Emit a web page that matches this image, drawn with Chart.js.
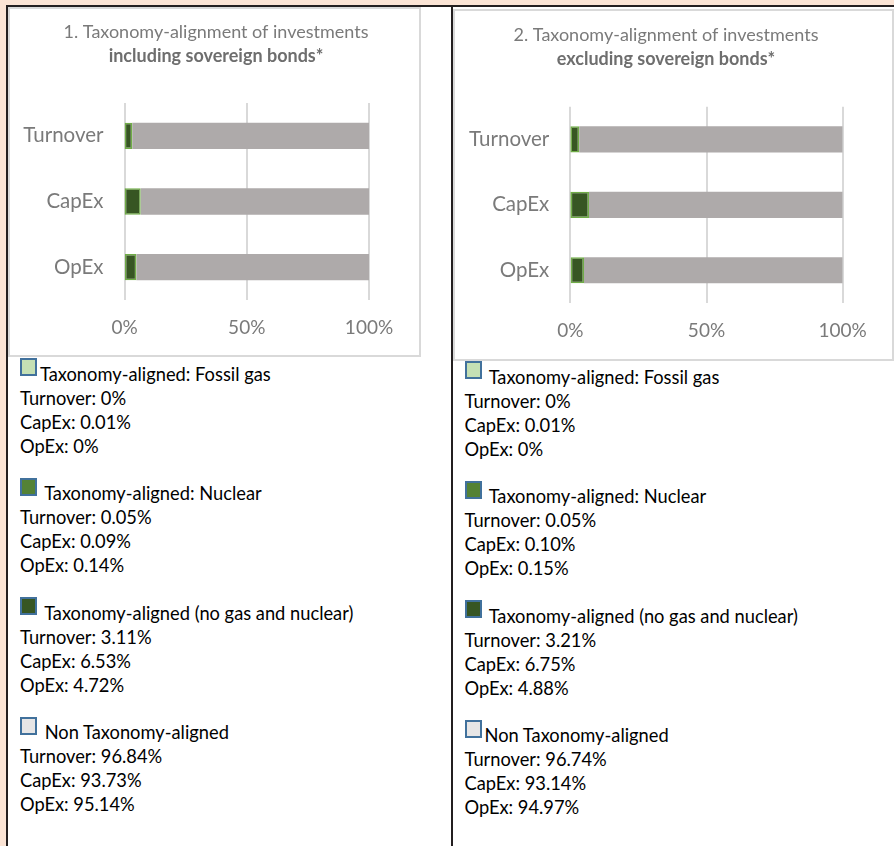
<!DOCTYPE html>
<html>
<head>
<meta charset="utf-8">
<script src="https://cdn.jsdelivr.net/npm/chart.js"></script>
<style>
  body { margin: 0; width: 894px; height: 846px; overflow: hidden; background: #fbe4d5; font-family: Lato, sans-serif; position: relative; }
  .sheet { position: absolute; left: 6px; top: 5px; width: 900px; height: 860px; background: #fff; border-top: 2px solid #231f20; border-left: 2px solid #231f20; }
  .divider { position: absolute; left: 451px; top: 5px; width: 2px; height: 860px; background: #231f20; }
  .box { position: absolute; border: 2px solid #d9d9d9; background: #fff; }
  .box canvas { display: block; }
  .legend { position: absolute; font-size: 18.3px; line-height: 23.9px; color: #000; white-space: pre; }
  .legend div { height: 23.9px; }
  .legend .head { position: relative; padding-left: 20px; }
  .swatch { position: absolute; left: 0; top: -4.8px; width: 13px; height: 14px; border: 2px solid #41719c; }
</style>
</head>
<body>
<div class="sheet"></div>
<div class="divider"></div>

<div class="box" style="left: 8px; top: 7px;"><canvas id="chartIncl" width="409" height="346"></canvas></div>
<div class="box" style="left: 453px; top: 9px;"><canvas id="chartExcl" width="437" height="348"></canvas></div>

<div class="legend" id="legendIncl" style="left: 20px; top: 363px;"></div>
<div class="legend" id="legendExcl" style="left: 464.5px; top: 366px;"></div>

<script>
const categories = ['Turnover', 'CapEx', 'OpEx'];
const seriesNames = ['Taxonomy-aligned: Fossil gas', 'Taxonomy-aligned: Nuclear', 'Taxonomy-aligned (no gas and nuclear)', 'Non Taxonomy-aligned'];
const xTicks = [0, 50, 100];

// 1. including sovereign bonds
const fossilGasIncl = [0, 0.01, 0];
const nuclearIncl = [0.05, 0.09, 0.14];
const alignedIncl = [3.11, 6.53, 4.72];
const nonAlignedIncl = [96.84, 93.73, 95.14];

// 2. excluding sovereign bonds
const fossilGasExcl = [0, 0.01, 0];
const nuclearExcl = [0.05, 0.10, 0.15];
const alignedExcl = [3.21, 6.75, 4.88];
const nonAlignedExcl = [96.74, 93.14, 94.97];

const barColors = ['#c5e0b4', '#548235', '#375623', '#aeaaaa'];
const barBorders = ['#70ad47', '#70ad47', '#70ad47', '#aeaaaa'];
const swatchColors = ['#c5e0b4', '#548235', '#375623', '#e7e6e6'];
const textGray = '#7a7a7a';

const panels = [
    {
        canvas: 'chartIncl', legend: 'legendIncl',
        title: '1. Taxonomy-alignment of investments',
        subtitle: 'including sovereign bonds*',
        series: [fossilGasIncl, nuclearIncl, alignedIncl, nonAlignedIncl],
        noSpace: [0],
        layout: { padL: 3, padR: 0, gapR: 50, axisW: 111.5, axisH: 55, titleTop: 12.2, subBottom: 36.2 }
    },
    {
        canvas: 'chartExcl', legend: 'legendExcl',
        title: '2. Taxonomy-alignment of investments',
        subtitle: 'excluding sovereign bonds*',
        series: [fossilGasExcl, nuclearExcl, alignedExcl, nonAlignedExcl],
        noSpace: [3],
        layout: { padL: 0, padR: 15, gapR: 49.3, axisW: 115.3, axisH: 56, titleTop: 13.2, subBottom: 36.9 }
    }
];

function formatPct(v) {
    return v === 0 ? '0%' : v.toFixed(2) + '%';
}

function buildChart(p) {
    const l = p.layout;
    new Chart(document.getElementById(p.canvas), {
        type: 'bar',
        data: {
            labels: categories,
            datasets: p.series.map((values, i) => ({
                label: seriesNames[i],
                data: values,
                backgroundColor: barColors[i],
                borderColor: barBorders[i],
                borderWidth: i === 3 ? 0 : 1.5,
                borderSkipped: false,
                barPercentage: 0.4,
                categoryPercentage: 1
            }))
        },
        options: {
            indexAxis: 'y',
            responsive: false,
            animation: false,
            layout: { padding: { left: l.padL, right: l.padR, top: 0, bottom: 0 } },
            plugins: {
                legend: { display: false },
                tooltip: { enabled: false },
                title: {
                    display: true,
                    text: p.title,
                    color: textGray,
                    font: { family: 'Lato', size: 18, weight: 'normal' },
                    padding: { top: l.titleTop, bottom: 2 }
                },
                subtitle: {
                    display: true,
                    text: p.subtitle,
                    color: '#6e6e6e',
                    font: { family: 'Lato', size: 18, weight: 'bold' },
                    padding: { top: 0.4, bottom: l.subBottom }
                }
            },
            scales: {
                x: {
                    stacked: true,
                    min: 0,
                    max: 100,
                    afterBuildTicks: s => { s.ticks = xTicks.map(v => ({ value: v })); },
                    afterFit: s => {
                        s.height = l.axisH;
                        s.paddingLeft = 0;
                        s.paddingRight = l.gapR;
                    },
                    ticks: { callback: v => v + '%', color: textGray, font: { family: 'Lato', size: 19 }, padding: 16.4 },
                    grid: { color: '#d9d9d9', lineWidth: 2, drawTicks: false },
                    border: { display: false }
                },
                y: {
                    stacked: true,
                    afterFit: s => {
                        s.width = l.axisW;
                        s.paddingTop = 0;
                        s.paddingBottom = 0;
                    },
                    ticks: { color: textGray, font: { family: 'Lato', size: 20.5 }, padding: 21 },
                    grid: { display: false, drawTicks: false },
                    border: { display: false }
                }
            }
        }
    });
}

function buildLegend(p) {
    const box = document.getElementById(p.legend);
    seriesNames.forEach((name, i) => {
        if (i > 0) box.appendChild(document.createElement('div'));
        const head = document.createElement('div');
        head.className = 'head';
        const sw = document.createElement('span');
        sw.className = 'swatch';
        sw.style.background = swatchColors[i];
        head.appendChild(sw);
        head.appendChild(document.createTextNode((p.noSpace.includes(i) ? '' : ' ') + name));
        box.appendChild(head);
        categories.forEach((cat, j) => {
            const line = document.createElement('div');
            line.textContent = cat + ': ' + formatPct(p.series[i][j]);
            box.appendChild(line);
        });
    });
}

panels.forEach(p => {
    buildChart(p);
    buildLegend(p);
});
</script>
</body>
</html>
